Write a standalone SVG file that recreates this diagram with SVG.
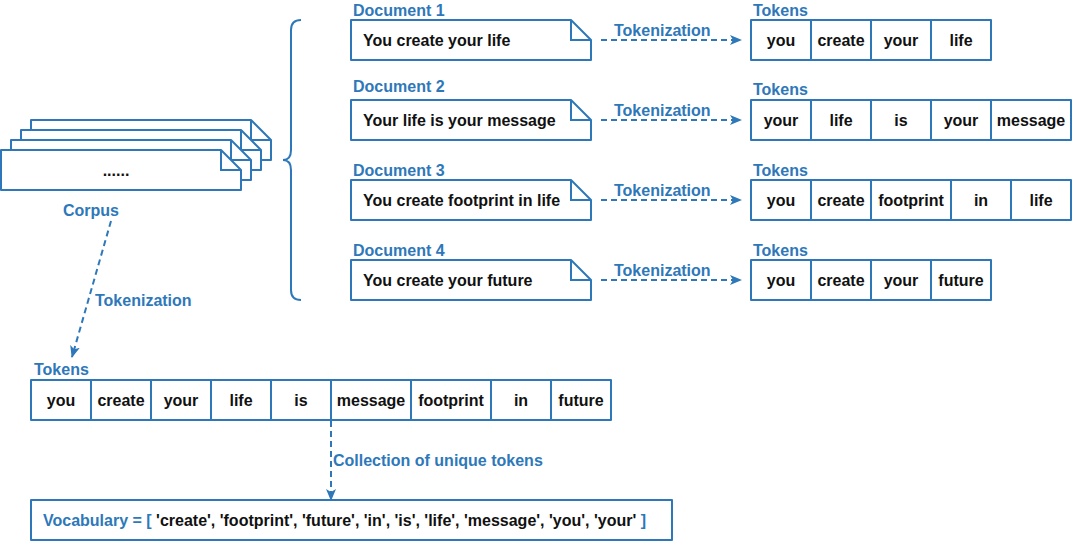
<svg xmlns="http://www.w3.org/2000/svg" width="1072" height="543" viewBox="0 0 1072 543">
<defs>
<style>
.s{fill:#fff;stroke:#2e78ba;stroke-width:2;stroke-linejoin:round}
.ln{fill:none;stroke:#2e78ba;stroke-width:2}
.d{fill:none;stroke:#2e78ba;stroke-width:2;stroke-dasharray:6 4}
text{font-family:"Liberation Sans",Arial,Helvetica,sans-serif;font-size:16px;font-weight:bold}
.b{fill:#2e78ba}
.k{fill:#111}
.c{text-anchor:middle}
</style>
<marker id="ah" viewBox="0 0 12 10" refX="11" refY="5" markerWidth="12" markerHeight="10" markerUnits="userSpaceOnUse" orient="auto">
<path d="M0,0 L12,5 L0,10 L3,5 Z" fill="#2e78ba"/>
</marker>
</defs>
<rect width="1072" height="543" fill="#fff"/>

<g id="corpus">
<path class="s" d="M31,120 H251 L271,140 V160 H31 Z"/>
<path class="ln" d="M251,120 V140 H271"/>
<path class="s" d="M21,130 H241 L261,150 V170 H21 Z"/>
<path class="ln" d="M241,130 V150 H261"/>
<path class="s" d="M11,140 H231 L251,160 V180 H11 Z"/>
<path class="ln" d="M231,140 V160 H251"/>
<path class="s" d="M1,150 H221 L241,170 V190 H1 Z"/>
<path class="ln" d="M221,150 V170 H241"/>
<text class="k c" x="116" y="176">......</text>
<text class="b c" x="91" y="216">Corpus</text>
</g>

<g id="brace">
<path class="ln" d="M301,20 Q291,20 291,30 V150 Q291,160 283,160 Q291,160 291,170 V290 Q291,300 301,300"/>
</g>

<g id="doc1">
<text class="b" x="353" y="16">Document 1</text>
<path class="s" d="M351,20 H571 L591,40 V60 H351 Z"/>
<path class="ln" d="M571,20 V40 H591"/>
<text class="k" x="363" y="46">You create your life</text>
</g>
<g id="doc2">
<text class="b" x="353" y="92">Document 2</text>
<path class="s" d="M351,100 H571 L591,120 V140 H351 Z"/>
<path class="ln" d="M571,100 V120 H591"/>
<text class="k" x="363" y="126">Your life is your message</text>
</g>
<g id="doc3">
<text class="b" x="353" y="176">Document 3</text>
<path class="s" d="M351,180 H571 L591,200 V220 H351 Z"/>
<path class="ln" d="M571,180 V200 H591"/>
<text class="k" x="363" y="206">You create footprint in life</text>
</g>
<g id="doc4">
<text class="b" x="353" y="256">Document 4</text>
<path class="s" d="M351,260 H571 L591,280 V300 H351 Z"/>
<path class="ln" d="M571,260 V280 H591"/>
<text class="k" x="363" y="286">You create your future</text>
</g>

<g id="tokens1">
<text class="b" x="753" y="16">Tokens</text>
<rect class="s" x="751" y="20" width="240" height="40"/>
<path class="ln" d="M811,20 V60 M871,20 V60 M931,20 V60"/>
<text class="k c" x="781" y="46">you</text>
<text class="k c" x="841" y="46">create</text>
<text class="k c" x="901" y="46">your</text>
<text class="k c" x="961" y="46">life</text>
</g>
<g id="tokens2">
<text class="b" x="753" y="95">Tokens</text>
<rect class="s" x="751" y="100" width="320" height="40"/>
<path class="ln" d="M811,100 V140 M871,100 V140 M931,100 V140 M991,100 V140"/>
<text class="k c" x="781" y="126">your</text>
<text class="k c" x="841" y="126">life</text>
<text class="k c" x="901" y="126">is</text>
<text class="k c" x="961" y="126">your</text>
<text class="k c" x="1031" y="126">message</text>
</g>
<g id="tokens3">
<text class="b" x="753" y="176">Tokens</text>
<rect class="s" x="751" y="180" width="320" height="40"/>
<path class="ln" d="M811,180 V220 M871,180 V220 M951,180 V220 M1011,180 V220"/>
<text class="k c" x="781" y="206">you</text>
<text class="k c" x="841" y="206">create</text>
<text class="k c" x="911" y="206">footprint</text>
<text class="k c" x="981" y="206">in</text>
<text class="k c" x="1041" y="206">life</text>
</g>
<g id="tokens4">
<text class="b" x="753" y="256">Tokens</text>
<rect class="s" x="751" y="260" width="240" height="40"/>
<path class="ln" d="M811,260 V300 M871,260 V300 M931,260 V300"/>
<text class="k c" x="781" y="286">you</text>
<text class="k c" x="841" y="286">create</text>
<text class="k c" x="901" y="286">your</text>
<text class="k c" x="961" y="286">future</text>
</g>

<g id="tokensAll">
<text class="b" x="34" y="375">Tokens</text>
<rect class="s" x="31" y="380" width="580" height="40"/>
<path class="ln" d="M91,380 V420 M151,380 V420 M211,380 V420 M271,380 V420 M331,380 V420 M411,380 V420 M491,380 V420 M551,380 V420"/>
<text class="k c" x="61" y="406">you</text>
<text class="k c" x="121" y="406">create</text>
<text class="k c" x="181" y="406">your</text>
<text class="k c" x="241" y="406">life</text>
<text class="k c" x="301" y="406">is</text>
<text class="k c" x="371" y="406">message</text>
<text class="k c" x="451" y="406">footprint</text>
<text class="k c" x="521" y="406">in</text>
<text class="k c" x="581" y="406">future</text>
</g>

<g id="vocabulary">
<rect class="s" x="31" y="500" width="641" height="40"/>
<text x="43" y="526"><tspan class="b">Vocabulary = [ </tspan><tspan class="k">'create', 'footprint', 'future', 'in', 'is', 'life', 'message', 'you', 'your'</tspan><tspan class="b"> ]</tspan></text>
</g>

<g id="connectors">
<path class="d" d="M601,40 H741" marker-end="url(#ah)"/>
<path class="d" d="M601,120 H741" marker-end="url(#ah)"/>
<path class="d" d="M601,200 H741" marker-end="url(#ah)"/>
<path class="d" d="M601,280 H741" marker-end="url(#ah)"/>
<text class="b" x="614" y="36">Tokenization</text>
<text class="b" x="614" y="116">Tokenization</text>
<text class="b" x="614" y="196">Tokenization</text>
<text class="b" x="614" y="276">Tokenization</text>
<path class="d" d="M111,221 L72,357" marker-end="url(#ah)"/>
<text class="b" x="95" y="306">Tokenization</text>
<path class="d" d="M331,421 V500" marker-end="url(#ah)"/>
<text class="b" x="333" y="466">Collection of unique tokens</text>
</g>
</svg>
